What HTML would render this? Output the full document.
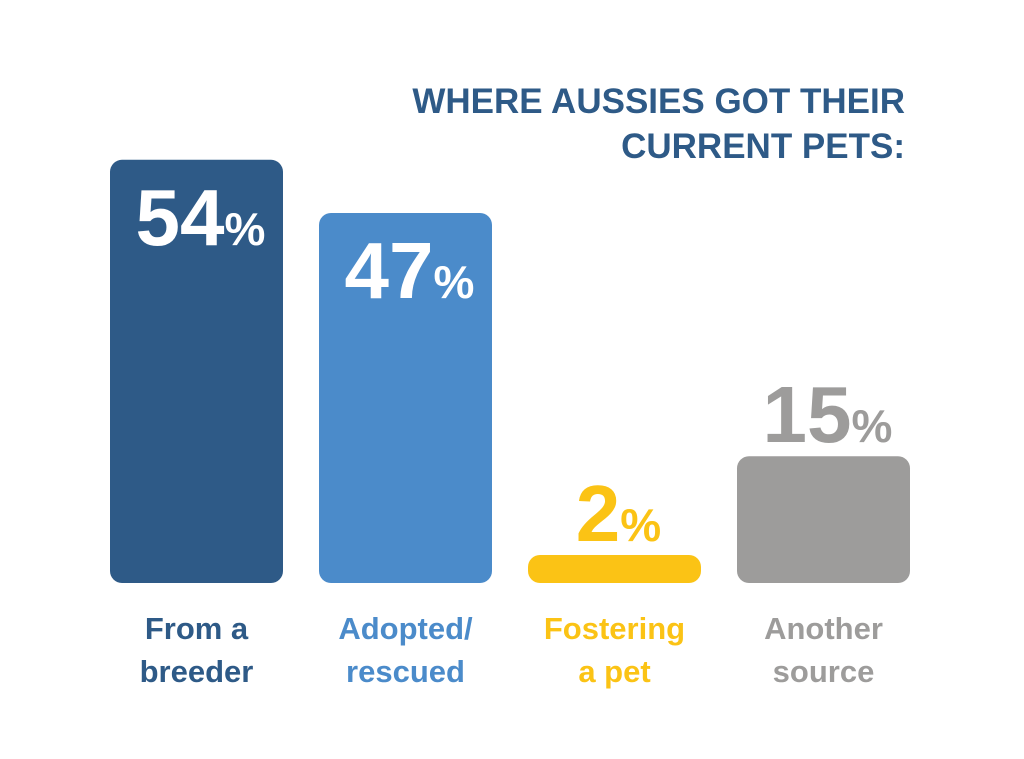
<!DOCTYPE html>
<html><head><meta charset="utf-8"><style>
html,body{margin:0;padding:0;background:#fff;}
svg{display:block;font-family:"Liberation Sans",sans-serif;font-weight:bold;}
</style></head><body>
<svg id="chart" width="1024" height="759" viewBox="0 0 1024 759">
<rect width="1024" height="759" fill="#fff"/>
<text x="905" y="113" text-anchor="end" font-size="35" fill="#2e5a87">WHERE AUSSIES GOT THEIR</text>
<text x="905" y="158" text-anchor="end" font-size="35" fill="#2e5a87">CURRENT PETS:</text>
<g id="bars"></g>
</svg>
<script>
const categories = ["From a|breeder","Adopted/|rescued","Fostering|a pet","Another|source"];
const values = [54, 47, 2, 15];
const colors = ["#2e5a87","#4b8bca","#fbc315","#9d9c9b"];
const NS = "http://www.w3.org/2000/svg";
const g = document.getElementById("bars");
const baseY = 583, barW = 173, x0 = 110, step = 209;
function yScale(v){ return baseY - (12.8 + 7.6 * v); }
function xScale(i){ return x0 + i * step; }
values.forEach((v, i) => {
  const x = xScale(i), top = yScale(v);
  const r = document.createElementNS(NS, "rect");
  
  
  r.setAttribute("x", x); r.setAttribute("y", top);
  r.setAttribute("width", barW); r.setAttribute("height", baseY - top);
  r.setAttribute("rx", Math.min(12, (baseY - top) / 2)); r.setAttribute("fill", colors[i]);
  g.appendChild(r);
  const inside = (baseY - top) > 200;
  const t = document.createElementNS(NS, "text");
  
  
  t.setAttribute("x", x + barW / 2 + 4);
  t.setAttribute("y", inside ? top + 85 : top - 14);
  t.setAttribute("text-anchor", "middle");
  t.setAttribute("fill", inside ? "#fff" : colors[i]);
  t.setAttribute("font-size", "80");
  const n = document.createElementNS(NS, "tspan"); n.textContent = v;
  const p = document.createElementNS(NS, "tspan"); p.textContent = "%"; p.setAttribute("font-size", "46");
  t.appendChild(n); t.appendChild(p);
  g.appendChild(t);
  categories[i].split("|").forEach((line, j) => {
    const c = document.createElementNS(NS, "text");
    
    
    c.setAttribute("x", x + barW / 2); c.setAttribute("y", 639 + j * 43);
    c.setAttribute("text-anchor", "middle"); c.setAttribute("font-size", "31");
    c.setAttribute("fill", colors[i]); c.textContent = line;
    g.appendChild(c);
  });
});
</script>
</body></html>
